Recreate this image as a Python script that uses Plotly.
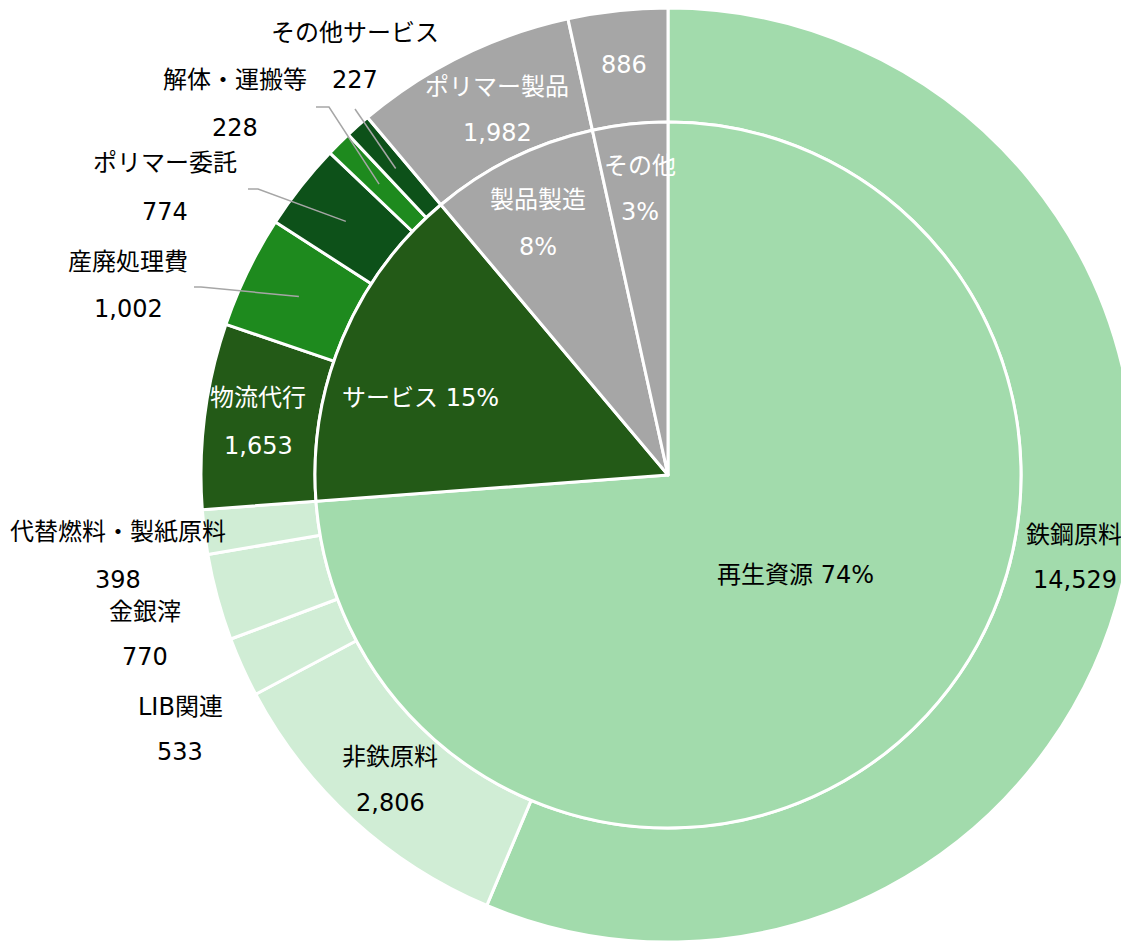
import math
import plotly.graph_objects as go

# ---- data (outer ring, clockwise from 12 o'clock) ----
outer_labels = ["鉄鋼原料", "非鉄原料", "LIB関連", "金銀滓", "代替燃料・製紙原料",
                "物流代行", "産廃処理費", "ポリマー委託", "解体・運搬等", "その他サービス",
                "ポリマー製品", "その他"]
outer_values = [14529, 2806, 533, 770, 398, 1653, 1002, 774, 228, 227, 1982, 886]
outer_group = [0, 0, 0, 0, 0, 1, 1, 1, 1, 1, 2, 3]

# ---- data (inner pie) ----
inner_labels = ["再生資源", "サービス", "製品製造", "その他"]
inner_values = [sum(v for v, g in zip(outer_values, outer_group) if g == i) for i in range(4)]

# ---- styles ----
outer_colors = ["#a2dbac", "#d0edd5", "#d0edd5", "#d0edd5", "#d0edd5",
                "#235a17", "#1e8a1e", "#0d5119", "#1e8a1e", "#0d5119",
                "#a6a6a6", "#a6a6a6"]
inner_colors = ["#a2dbac", "#235a17", "#a6a6a6", "#a6a6a6"]
outer_text_colors = ["black"] * 5 + ["white"] + ["black"] * 4 + ["white", "white"]
inner_text_colors = ["black", "white", "white", "white"]

FONT = "DejaVu Sans, Noto Sans CJK JP"
FS = 24
W, H = 1129, 944
OFF = 8                    # page body margin: figure starts 8px into the window
CX, CY = 668, 475          # pie centre in window px
R_OUT, R_IN = 467, 353

# label positions in window px (name line, value line); None = not shown
outer_name_xy = [(1074, 535), (390, 757), (180, 707), (145, 612), (118, 532),
                 (258, 398), (128, 262), (165, 163), (235, 80), (355, 33),
                 (497, 87), None]
outer_value_xy = [(1075, 580), (390, 803), (180, 752), (145, 657), (118, 580),
                  (258, 446), (128, 309), (165, 212), (235, 128), (355, 80),
                  (497, 133), (624, 65)]
inner_name_xy = [(795, 575), (420, 398), (538, 200), (640, 166)]
inner_value_xy = [None, None, (538, 247), (640, 212)]

# leader lines: slice index -> start points near label
leaders = {6: [(194, 287), (201, 287)],
           7: [(248, 189), (258, 189)],
           8: [(316, 107), (329, 107)],
           9: [(355, 109)]}


def paper(px, py):
    return (px - OFF) / W, 1 - (py - OFF) / H


def dom(r):
    x0, y1 = paper(CX - r, CY - r)
    x1, y0 = paper(CX + r, CY + r)
    return dict(x=[max(0, x0), min(1, x1)], y=[max(0, y0), min(1, y1)])


fig = go.Figure()
fig.add_trace(go.Pie(values=outer_values, labels=outer_labels, sort=False,
                     direction="clockwise", rotation=0, hole=R_IN / R_OUT,
                     marker=dict(colors=outer_colors, line=dict(color="white", width=3)),
                     textinfo="none", showlegend=False, domain=dom(R_OUT)))
fig.add_trace(go.Pie(values=inner_values, labels=inner_labels, sort=False,
                     direction="clockwise", rotation=0,
                     marker=dict(colors=inner_colors, line=dict(color="white", width=3)),
                     textinfo="none", showlegend=False, domain=dom(R_IN)))

ann = []


def add_text(txt, xy, color):
    x, y = paper(*xy)
    ann.append(dict(x=x, y=y, xref="paper", yref="paper", text=txt, showarrow=False,
                    xanchor="center", yanchor="middle",
                    font=dict(family=FONT, size=FS, color=color)))


for i, lab in enumerate(outer_labels):
    if outer_name_xy[i] is not None:
        add_text(lab, outer_name_xy[i], outer_text_colors[i])
    add_text(f"{outer_values[i]:,}", outer_value_xy[i], outer_text_colors[i])

total = sum(inner_values)
for i, lab in enumerate(inner_labels):
    pct = f"{round(inner_values[i] / total * 100)}%"
    if inner_value_xy[i] is None:
        add_text(f"{lab} {pct}", inner_name_xy[i], inner_text_colors[i])
    else:
        add_text(lab, inner_name_xy[i], inner_text_colors[i])
        add_text(pct, inner_value_xy[i], inner_text_colors[i])

# leader lines to the middle of each small slice
shapes = []
cum = 0
r_mid = (R_IN + R_OUT) / 2
for i, v in enumerate(outer_values):
    mid = (cum + v / 2) / total * 2 * math.pi
    cum += v
    if i in leaders:
        tip = (CX + r_mid * math.sin(mid), CY - r_mid * math.cos(mid))
        pts = [paper(*p) for p in leaders[i] + [tip]]
        path = "M " + " L ".join(f"{x},{y}" for x, y in pts)
        shapes.append(dict(type="path", path=path, xref="paper", yref="paper",
                           line=dict(color="#a6a6a6", width=1.5)))

fig.update_layout(width=W, height=H, margin=dict(l=0, r=0, t=0, b=0),
                  paper_bgcolor="white", plot_bgcolor="white",
                  annotations=ann, shapes=shapes)
fig.write_html("out.html")
